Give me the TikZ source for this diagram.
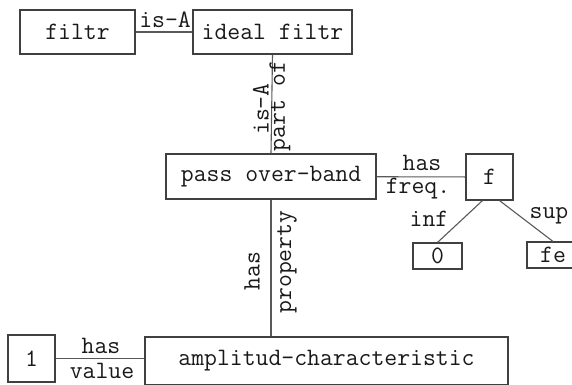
\documentclass[tikz,border=0pt]{standalone}
\usepackage{fontspec}
\begin{document}
\begin{tikzpicture}[x=1pt,y=-1pt,
  concept/.style={draw=black!75, line width=1.1pt, inner sep=0pt, text=black!90,
    font=\ttfamily\fontsize{25}{28}\selectfont},
  rel/.style={draw=black!65, line width=1.1pt},
  lbl/.style={inner sep=0pt, text=black!90, font=\ttfamily\fontsize{25}{28}\selectfont}]
\useasboundingbox (0,0) rectangle (572,384);
\begin{scope}
\clip (0,0) rectangle (572,384);
% concepts
\node[concept, minimum width=115pt, minimum height=44pt] (filtr) at (77.5,32) {filtr};
\node[concept, minimum width=159pt, minimum height=44pt] (ideal) at (272.5,32) {ideal filtr};
\node[concept, minimum width=210pt, minimum height=45pt] (pass) at (271,176.5) {pass over-band};
\node[concept, minimum width=47pt, minimum height=46pt] (f) at (489.5,177) {f};
\node[concept, minimum width=49pt, minimum height=26pt] (zero) at (437.5,256) {0};
\node[concept, minimum width=52pt, minimum height=26pt] (fe) at (553,255) {fe};
\node[concept, minimum width=363pt, minimum height=48pt] (amp) at (326.5,361) {amplitud-characteristic};
\node[concept, minimum width=47pt, minimum height=47pt] (one) at (31.5,358.5) {1};
% relations
\draw[rel] (filtr) -- (ideal);
\draw[rel] (ideal.south) -- (pass.north);
\draw[rel] (pass) -- (f);
\draw[rel] ([xshift=-7pt]f.south) -- (zero.north);
\draw[rel] ([xshift=10pt]f.south) -- (fe.north);
\draw[rel] (pass.south) -- (pass.south |- amp.north);
\draw[rel] (one) -- (one -| amp.west);
% relation labels
\node[lbl] (lisa) at (165,20) {is-A};
\node[lbl, rotate=90] (lisa2) at (261,109) {is-A};
\node[lbl, rotate=90] (lpart) at (280,106) {part of};
\node[lbl] (lhas) at (422,163) {has};
\node[lbl] (lfreq) at (418,189) {freq.};
\node[lbl] (linf) at (429,219) {inf};
\node[lbl] (lsup) at (549,216) {sup};
\node[lbl, rotate=90] (lhas2) at (252,271) {has};
\node[lbl, rotate=90] (lprop) at (287,262) {property};
\node[lbl] (lhas3) at (101,346) {has};
\node[lbl] (lval) at (102,371) {value};
\end{scope}
\end{tikzpicture}
\end{document}
